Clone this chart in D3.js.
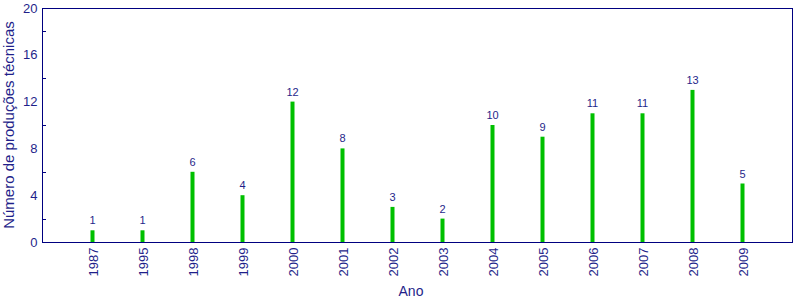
<!DOCTYPE html>
<html>
<head>
<meta charset="utf-8">
<script src="https://cdn.jsdelivr.net/npm/d3@7"></script>
<style>
  body { margin: 0; background: #fff; }
  text { font-family: "Liberation Sans", Arial, sans-serif; }
</style>
</head>
<body>
<div id="chart"></div>
<script>
// data
var anos = ["1987", "1995", "1998", "1999", "2000", "2001", "2002", "2003", "2004", "2005", "2006", "2007", "2008", "2009"];
var producoes = [1, 1, 6, 4, 12, 8, 3, 2, 10, 9, 11, 11, 13, 5];
var yTicks = [0, 4, 8, 12, 16, 20];
var yMinor = [2, 6, 10, 14, 18];

var width = 800, height = 300;
var margin = { top: 8, right: 8, bottom: 58, left: 42 };
var navy = "#000080", txt = "#1f1f8a", green = "#00c000";

var svg = d3.select("#chart").append("svg")
  .attr("width", width)
  .attr("height", height);

var x = d3.scalePoint()
  .domain(anos)
  .range([margin.left, width - margin.right])
  .padding(1);

var y = d3.scaleLinear()
  .domain([0, 20])
  .range([height - margin.bottom, margin.top]);

// frame
svg.append("rect")
  .attr("x", margin.left + 0.5)
  .attr("y", margin.top + 0.5)
  .attr("width", width - margin.left - margin.right)
  .attr("height", height - margin.top - margin.bottom)
  .attr("fill", "none")
  .attr("stroke", navy);

// y axis
var yAxis = svg.append("g")
  .attr("transform", "translate(" + (margin.left + 0.5) + ",0)")
  .call(d3.axisLeft(y).tickValues(yTicks).tickSize(0).tickPadding(5));
yAxis.select(".domain").remove();
yAxis.selectAll("text")
  .attr("fill", txt)
  .style("font-size", "13px");

// minor ticks inside
svg.selectAll(".minor")
  .data(yMinor)
  .enter().append("line")
  .attr("x1", margin.left)
  .attr("x2", margin.left + 4)
  .attr("y1", d => Math.round(y(d)) + 0.5)
  .attr("y2", d => Math.round(y(d)) + 0.5)
  .attr("stroke", navy);

// x axis
var xAxis = svg.append("g")
  .attr("transform", "translate(0," + (height - margin.bottom + 0.5) + ")")
  .call(d3.axisBottom(x).tickSize(0).tickPadding(0));
xAxis.select(".domain").remove();
xAxis.selectAll("text")
  .attr("fill", txt)
  .style("font-size", "13px")
  .attr("transform", "rotate(-90)")
  .attr("text-anchor", "end")
  .attr("x", -5)
  .attr("y", 1)
  .attr("dy", "0.35em");

// bars
svg.selectAll(".bar")
  .data(producoes)
  .enter().append("rect")
  .attr("x", (d, i) => x(anos[i]) - 1.5)
  .attr("width", 4)
  .attr("y", d => y(d))
  .attr("height", d => y(0) - y(d))
  .attr("fill", green);

// value labels
svg.selectAll(".lbl")
  .data(producoes)
  .enter().append("text")
  .attr("x", (d, i) => x(anos[i]) + 0.5)
  .attr("y", d => y(d) - 6)
  .attr("text-anchor", "middle")
  .attr("fill", txt)
  .style("font-size", "11px")
  .text(d => d);

// axis titles
svg.append("text")
  .attr("x", 411)
  .attr("y", 296)
  .attr("text-anchor", "middle")
  .attr("fill", txt)
  .style("font-size", "14px")
  .text("Ano");

svg.append("text")
  .attr("transform", "translate(14," + (margin.top + (height - margin.top - margin.bottom) / 2) + ") rotate(-90)")
  .attr("text-anchor", "middle")
  .attr("fill", txt)
  .style("font-size", "15px")
  .text("Número de produções técnicas");
</script>
</body>
</html>
